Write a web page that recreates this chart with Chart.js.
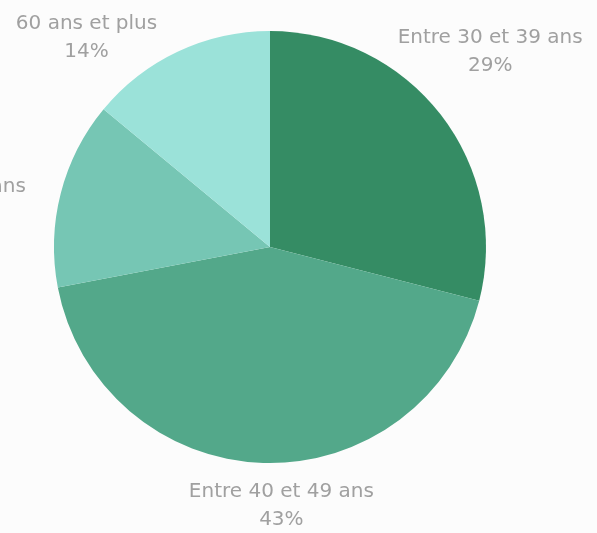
<!DOCTYPE html>
<html>
<head>
<meta charset="utf-8">
<script src="https://cdn.jsdelivr.net/npm/chart.js@4/dist/chart.umd.min.js"></script>
<style>
  html, body { margin: 0; padding: 0; background: #fcfcfc; overflow: hidden; }
  #wrap { position: relative; width: 597px; height: 533px; }
</style>
</head>
<body>
<div id="wrap"><canvas id="c" width="597" height="533"></canvas></div>
<script>
const categories = ["Entre 30 et 39 ans", "Entre 40 et 49 ans", "Entre 50 et 59 ans", "60 ans et plus"];
const percentages = [29, 43, 14, 14];
const sliceColors = ["#358c64", "#53a88a", "#76c6b4", "#9be2d9"];

const FONT = '20px "DejaVu Sans"';
const LINE_H = 28;
const CAP_H = 14.5;
const GAP_X = 250;
const GAP_Y = 236;
const LABEL_ROTATION = -3.7 * Math.PI / 180;
const MARGIN = { top: 14, right: 14, bottom: 0, left: 8 };

const outsideLabels = {
  id: 'outsideLabels',
  afterDatasetsDraw(chart) {
    const ctx = chart.ctx;
    const meta = chart.getDatasetMeta(0);
    const W = chart.width, H = chart.height;
    ctx.save();
    ctx.font = FONT;
    ctx.fillStyle = '#a0a0a0';
    ctx.textAlign = 'center';
    ctx.textBaseline = 'alphabetic';
    meta.data.forEach((arc, i) => {
      const p = arc.getProps(['x', 'y', 'startAngle', 'endAngle', 'outerRadius'], true);
      const lines = [chart.data.labels[i], chart.data.datasets[0].data[i] + '%'];
      const w = Math.max(...lines.map(l => ctx.measureText(l).width));
      const h = LINE_H + CAP_H;
      const place = (ang) => {
        const vx = Math.cos(ang), vy = Math.sin(ang);
        const cx = p.x + vx * (GAP_X + w / 2);
        const cy = p.y + vy * (GAP_Y + h / 2);
        return { cx, cy, l: cx - w / 2, r: cx + w / 2, t: cy - h / 2, b: cy + h / 2 };
      };
      const fits = (bx) => bx.l >= MARGIN.left && bx.r <= W - MARGIN.right &&
                           bx.t >= MARGIN.top && bx.b <= H - MARGIN.bottom;
      const mid = (p.startAngle + p.endAngle) / 2 + LABEL_ROTATION;
      let box = place(mid);
      if (!fits(box)) {
        let found = null;
        for (let d = 0.5; d <= 30 && !found; d += 0.5) {
          for (const s of [-1, 1]) {
            const b = place(mid + s * d * Math.PI / 180);
            if (fits(b)) { found = b; break; }
          }
        }
        if (found) box = found;
      }
      const firstBase = box.t + CAP_H;
      lines.forEach((l, k) => ctx.fillText(l, box.cx, firstBase + k * LINE_H));
    });
    ctx.restore();
  }
};

new Chart(document.getElementById('c'), {
  type: 'pie',
  data: {
    labels: categories,
    datasets: [{
      data: percentages,
      backgroundColor: sliceColors,
      borderWidth: 0
    }]
  },
  options: {
    responsive: false,
    animation: false,
    layout: { padding: { top: 31, bottom: 70, left: 0, right: 57 } },
    plugins: { legend: { display: false }, tooltip: { enabled: false } }
  },
  plugins: [outsideLabels]
});
</script>
</body>
</html>
